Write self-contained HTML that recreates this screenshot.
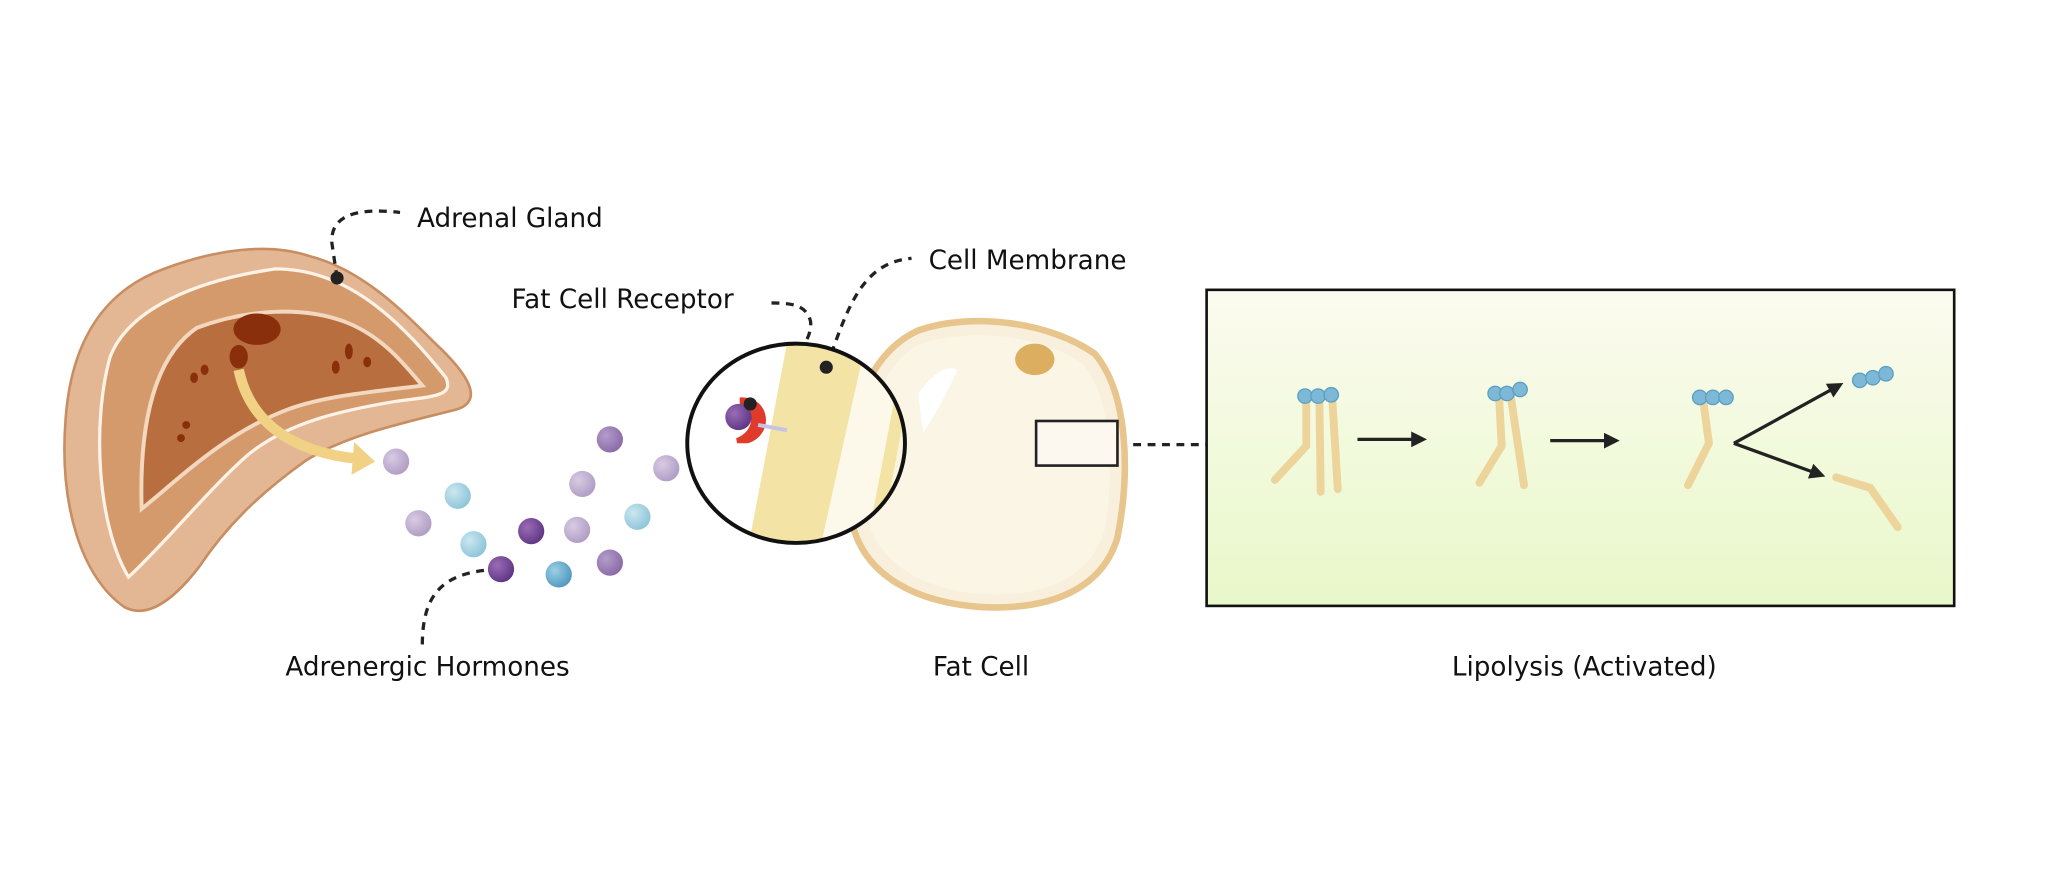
<!DOCTYPE html>
<html><head><meta charset="utf-8"><style>
html,body{margin:0;padding:0;background:#fff;}
svg{display:block;}
text{font-family:"DejaVu Sans","Liberation Sans",sans-serif;font-size:20px;fill:#111;}
</style></head><body>
<svg width="2046" height="896" viewBox="0 0 1560 683.2" preserveAspectRatio="none" xmlns="http://www.w3.org/2000/svg">
<defs>
<linearGradient id="bg" x1="0" y1="0" x2="0" y2="1"><stop offset="0" stop-color="#fcfbf0"/><stop offset="1" stop-color="#e8f8c9"/></linearGradient>
<radialGradient id="lp" cx="0.35" cy="0.35" r="0.7"><stop offset="0" stop-color="#d8cbe3"/><stop offset="1" stop-color="#b09cc4"/></radialGradient>
<radialGradient id="mp" cx="0.35" cy="0.35" r="0.7"><stop offset="0" stop-color="#b39ccb"/><stop offset="1" stop-color="#8a6aa6"/></radialGradient>
<radialGradient id="dp" cx="0.35" cy="0.35" r="0.7"><stop offset="0" stop-color="#9a6cb5"/><stop offset="1" stop-color="#5e3585"/></radialGradient>
<radialGradient id="lb" cx="0.35" cy="0.35" r="0.7"><stop offset="0" stop-color="#cbe7f0"/><stop offset="1" stop-color="#8cc4d8"/></radialGradient>
<radialGradient id="bb" cx="0.35" cy="0.35" r="0.7"><stop offset="0" stop-color="#9bd0e4"/><stop offset="1" stop-color="#4f97bf"/></radialGradient>
<clipPath id="cc"><ellipse cx="607" cy="338" rx="83" ry="76"/></clipPath>
<marker id="ah" markerWidth="12" markerHeight="12" refX="8" refY="6" orient="auto" markerUnits="userSpaceOnUse"><path d="M0,0 L12,6 L0,12z" fill="#222"/></marker>
</defs>

<path d="M95,463 C62,440 45,385 50,320 C54,262 78,222 125,205 C165,190 205,185 235,195 C275,205 305,235 332,262 C362,290 368,308 345,313 C310,322 262,332 232,352 C197,377 172,402 152,432 C132,458 112,472 95,463Z" fill="#e3b793" stroke="#c98d62" stroke-width="2"/>
<path d="M98,440 C74,400 70,322 84,272 C98,236 148,214 210,205 C262,205 302,240 340,288 C346,302 332,302 302,306 C260,313 220,322 190,346 C160,372 128,412 98,440Z" fill="#d49a6c" stroke="#fff2e6" stroke-width="2.5"/>
<path d="M108,388 C106,322 118,272 150,250 C190,235 232,234 262,245 C292,256 310,280 322,294 C292,298 250,301 220,312 C172,330 140,362 108,388Z" fill="#b86e3e" stroke="#f3d8c0" stroke-width="3"/>
<ellipse cx="196" cy="251" rx="18" ry="12" fill="#8a2f0c"/>
<ellipse cx="182" cy="272" rx="7" ry="9" fill="#8a2f0c"/>
<ellipse cx="266" cy="268" rx="3" ry="6" fill="#8a2f0c"/><ellipse cx="256" cy="280" rx="3" ry="5" fill="#8a2f0c"/><ellipse cx="280" cy="276" rx="3" ry="4" fill="#8a2f0c"/>
<ellipse cx="148" cy="288" rx="3" ry="4" fill="#8a2f0c"/><ellipse cx="156" cy="282" rx="3" ry="4" fill="#8a2f0c"/><ellipse cx="142" cy="324" rx="3" ry="3" fill="#8a2f0c"/><ellipse cx="138" cy="334" rx="3" ry="3" fill="#8a2f0c"/>
<path d="M182,282 C190,320 220,345 275,350" fill="none" stroke="#f1d183" stroke-width="8"/>
<path d="M270,337 L286,352 L268,362z" fill="#f1d183"/>

<g fill="none" stroke="#222" stroke-width="2.5" stroke-dasharray="6,5">
<path d="M257,212 L253,185 C252,165 270,158 305,162"/>
<path d="M630,280 C645,240 655,200 695,197"/>
<path d="M572,308 C600,280 620,262 618,245 C615,233 605,231 588,231"/>
<path d="M380,434 C340,436 322,450 322,492"/>
<path d="M853,339 L920,339"/>
</g>
<circle cx="257" cy="212" r="5" fill="#222"/>

<circle cx="302" cy="352" r="10" fill="url(#lp)"/>
<circle cx="465" cy="335" r="10" fill="url(#mp)"/>
<circle cx="508" cy="357" r="10" fill="url(#lp)"/>
<circle cx="349" cy="378" r="10" fill="url(#lb)"/>
<circle cx="444" cy="369" r="10" fill="url(#lp)"/>
<circle cx="319" cy="399" r="10" fill="url(#lp)"/>
<circle cx="405" cy="405" r="10" fill="url(#dp)"/>
<circle cx="440" cy="404" r="10" fill="url(#lp)"/>
<circle cx="486" cy="394" r="10" fill="url(#lb)"/>
<circle cx="361" cy="415" r="10" fill="url(#lb)"/>
<circle cx="382" cy="434" r="10" fill="url(#dp)"/>
<circle cx="426" cy="438" r="10" fill="url(#bb)"/>
<circle cx="465" cy="429" r="10" fill="url(#mp)"/>

<path d="M700,252 C740,238 800,245 835,270 C860,300 862,360 852,410 C840,450 800,465 750,463 C700,460 660,440 650,400 C640,350 650,275 700,252Z" fill="#f8f0dd" stroke="#e8c58d" stroke-width="5"/>
<path d="M702,262 C740,250 795,255 826,278 C848,305 850,360 842,405 C830,442 795,455 752,453 C708,451 672,432 662,398 C654,350 662,282 702,262Z" fill="#fbf5e6"/>
<ellipse cx="789" cy="274" rx="15" ry="12" fill="#dcae60"/>
<path d="M700,300 C712,284 722,278 730,282 C722,300 712,318 704,330Z" fill="#fff"/>
<rect x="790" y="321" width="62" height="34" fill="#fcf8ef" stroke="#222" stroke-width="2"/>

<g clip-path="url(#cc)">
<rect x="520" y="255" width="175" height="170" fill="#fff"/>
<path d="M600,262 L660,262 L625,420 L570,420Z" fill="#f3e3a5"/>
<path d="M660,262 L700,262 L660,420 L625,420Z" fill="#fdf9ea"/>
<path d="M690,262 L700,262 L670,420 L660,420Z" fill="#f3e3a5"/>
<path d="M700,262 L700,420 L670,420Z" fill="#f9f4de"/>
</g>
<ellipse cx="607" cy="338" rx="83" ry="76" fill="none" stroke="#111" stroke-width="3"/>
<path d="M566,305 C585,305 588,330 570,336 L562,336 C578,330 578,312 566,310Z" fill="#e03b2a" stroke="#e03b2a" stroke-width="4"/>
<line x1="578" y1="324" x2="600" y2="328" stroke="#c9c2e6" stroke-width="3"/>
<circle cx="563" cy="318" r="10" fill="url(#dp)"/>
<circle cx="572" cy="308" r="5" fill="#222"/>
<circle cx="630" cy="280" r="5" fill="#222"/>

<rect x="920" y="221" width="570" height="241" fill="url(#bg)" stroke="#111" stroke-width="2"/>
<g stroke="#ecd49a" stroke-width="6" stroke-linecap="round" fill="none">
<path d="M996,307 L996,340 L972,366"/><path d="M1006,307 L1007,375"/><path d="M1016,307 L1020,373"/>
<path d="M1143,303 L1145,340 L1128,368"/><path d="M1152,303 L1162,370"/>
<path d="M1299,308 L1303,338 L1287,370"/>
<path d="M1400,364 L1426,372 L1447,402"/>
</g>
<g fill="#7db9d6" stroke="#5b9fc2" stroke-width="1">
<circle cx="995" cy="302" r="5.5"/><circle cx="1005" cy="302" r="5.5"/><circle cx="1015" cy="301" r="5.5"/>
<circle cx="1140" cy="300" r="5.5"/><circle cx="1149" cy="300" r="5.5"/><circle cx="1159" cy="297" r="5.5"/>
<circle cx="1296" cy="303" r="5.5"/><circle cx="1306" cy="303" r="5.5"/><circle cx="1316" cy="303" r="5.5"/>
<circle cx="1418" cy="290" r="5.5"/><circle cx="1428" cy="288" r="5.5"/><circle cx="1438" cy="285" r="5.5"/>
</g>
<g stroke="#222" stroke-width="2.5" fill="none" marker-end="url(#ah)">
<line x1="1035" y1="335" x2="1084" y2="335"/>
<line x1="1182" y1="336" x2="1231" y2="336"/>
<line x1="1322" y1="338" x2="1402" y2="294"/>
<line x1="1322" y1="338" x2="1388" y2="362"/>
</g>

<text x="318" y="173">Adrenal Gland</text>
<text x="708" y="205">Cell Membrane</text>
<text x="390" y="235">Fat Cell Receptor</text>
<text x="326" y="515" text-anchor="middle">Adrenergic Hormones</text>
<text x="748" y="515" text-anchor="middle">Fat Cell</text>
<text x="1208" y="515" text-anchor="middle">Lipolysis (Activated)</text>
</svg>
</body></html>
